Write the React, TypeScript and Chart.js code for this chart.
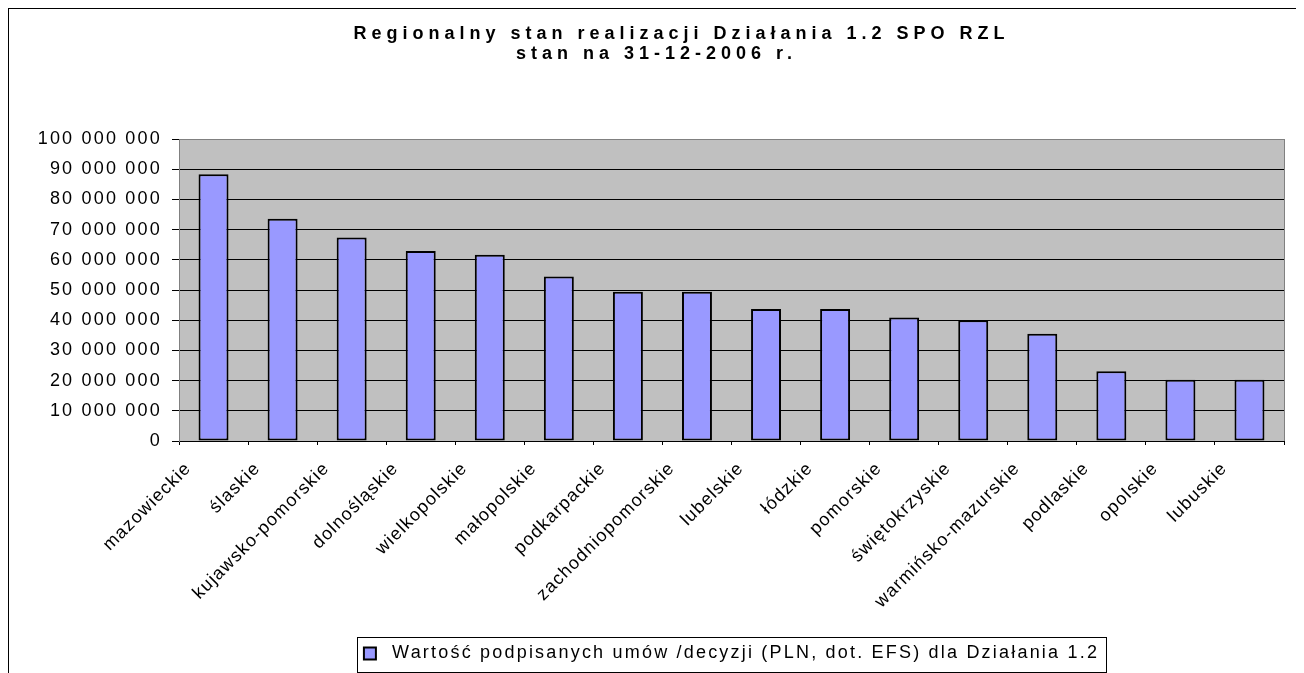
import React, { useEffect, useRef } from 'react';
import { Chart, registerables } from 'chart.js';

Chart.register(...registerables);

// ---- data ----
const regions = [
  'mazowieckie',
  'ślaskie',
  'kujawsko-pomorskie',
  'dolnośląskie',
  'wielkopolskie',
  'małopolskie',
  'podkarpackie',
  'zachodniopomorskie',
  'lubelskie',
  'łódzkie',
  'pomorskie',
  'świętokrzyskie',
  'warmińsko-mazurskie',
  'podlaskie',
  'opolskie',
  'lubuskie',
];

const contractValues = [
  88300000, 73600000, 67400000, 62900000, 61700000, 54500000, 49400000, 49400000,
  43700000, 43700000, 40900000, 40000000, 35500000, 23100000, 20300000, 20300000,
];

const seriesLabel = 'Wartość podpisanych umów /decyzji (PLN, dot. EFS) dla Działania 1.2';
const titleLines = ['       Regionalny stan realizacji Działania 1.2 SPO RZL', '  stan na 31-12-2006 r.'];
const yAxisMin = 0;
const yAxisMax = 100000000;
const yAxisStep = 10000000;

// ---- styling ----
const FONT = '"Liberation Sans", Arial, sans-serif';
const FONT_XLABEL = '"Liberation Sans", Arial, Helvetica, sans-serif';
const TEXT_SPACING = '2.2px';
const XLABEL_SPACING = '1.2px';
const TITLE_SPACING = '5px';

function formatThousands(v: number): string {
  return String(Math.round(v)).replace(/\B(?=(\d{3})+(?!\d))/g, ' ');
}

function patchLetterSpacing(ctx: any) {
  const desc = Object.getOwnPropertyDescriptor(CanvasRenderingContext2D.prototype, 'font');
  if (!desc || !desc.set || !desc.get) return;
  Object.defineProperty(ctx, 'font', {
    configurable: true,
    get() {
      return desc.get!.call(this);
    },
    set(v: string) {
      desc.set!.call(this, v);
      let sp = TEXT_SPACING;
      if (/bold/.test(v)) sp = TITLE_SPACING;
      else if (/Helvetica/.test(v)) sp = XLABEL_SPACING;
      (this as any).letterSpacing = sp;
    },
  });
}

const plotFrame = {
  id: 'plotFrame',
  beforeDraw(chart: any) {
    const { ctx, chartArea: a } = chart;
    ctx.save();
    ctx.fillStyle = '#C0C0C0';
    ctx.fillRect(a.left, a.top, a.right - a.left, a.bottom - a.top);
    ctx.restore();
  },
  beforeDatasetsDraw(chart: any) {
    const { ctx, chartArea: a } = chart;
    ctx.save();
    ctx.strokeStyle = '#808080';
    ctx.lineWidth = 1;
    ctx.beginPath();
    ctx.moveTo(Math.round(a.right) + 0.5, a.top);
    ctx.lineTo(Math.round(a.right) + 0.5, a.bottom);
    ctx.stroke();
    ctx.restore();
  },
  afterDraw(chart: any) {
    const hb = chart.legend && chart.legend.legendHitBoxes && chart.legend.legendHitBoxes[0];
    if (!hb) return;
    const { ctx } = chart;
    ctx.save();
    ctx.strokeStyle = '#000';
    ctx.lineWidth = 1;
    ctx.strokeRect(Math.round(hb.left - 7) + 0.5, Math.round(hb.top - 8) + 0.5, Math.round(hb.width + 14), 35);
    ctx.restore();
  },
};

export default function App() {
  const canvasRef = useRef<HTMLCanvasElement | null>(null);

  useEffect(() => {
    document.documentElement.style.overflow = 'hidden';
    document.body.style.overflow = 'hidden';
    const canvas = canvasRef.current;
    if (!canvas) return;
    const ctx = canvas.getContext('2d');
    patchLetterSpacing(ctx);

    Chart.defaults.font.family = FONT;
    Chart.defaults.color = '#000';

    const chart = new Chart(canvas, {
      type: 'bar',
      data: {
        labels: regions,
        datasets: [
          {
            label: seriesLabel,
            data: contractValues,
            backgroundColor: '#9999FF',
            borderColor: '#000',
            borderWidth: 2,
            borderSkipped: false,
            barPercentage: 1,
            categoryPercentage: 0.434,
          },
        ],
      },
      plugins: [plotFrame],
      options: {
        responsive: false,
        animation: false,
        devicePixelRatio: 1,
        layout: { padding: { top: 0, left: 0, right: 18, bottom: 36.5 } },
        plugins: {
          tooltip: { enabled: false },
          title: {
            display: true,
            text: titleLines,
            color: '#000',
            font: { family: FONT, size: 18, weight: 'bold', lineHeight: 1.1 },
            padding: { top: 15, bottom: 75.4 },
          },
          legend: {
            display: true,
            position: 'bottom',
            fullSize: false,
            labels: {
              color: '#000',
              font: { family: FONT, size: 18 },
              boxWidth: 12,
              boxHeight: 12,
              padding: 10,
              generateLabels: (c: any) =>
                (Chart.defaults.plugins.legend.labels.generateLabels as any)(c).map((l: any) => ({
                  ...l,
                  text: ' ' + l.text,
                })),
            },
          },
        },
        scales: {
          x: {
            offset: true,
            grid: {
              display: true,
              offset: true,
              drawOnChartArea: false,
              drawTicks: true,
              tickLength: 4,
              tickColor: '#000',
            },
            border: { display: true, color: '#000', width: 1 },
            ticks: {
              autoSkip: false,
              maxRotation: 45,
              minRotation: 45,
              padding: 13,
              labelOffset: -25,
              color: '#000',
              font: { family: FONT_XLABEL, size: 18 },
            },
            afterFit: (scale: any) => {
              scale.height = 193.5;
            },
          },
          y: {
            min: yAxisMin,
            max: yAxisMax,
            grid: {
              color: (c: any) => (c.tick && c.tick.value === yAxisMax ? '#808080' : '#000'),
              lineWidth: 1,
              drawTicks: true,
              tickLength: 7,
              tickColor: '#000',
            },
            border: { display: true, color: '#808080', width: 1 },
            ticks: {
              stepSize: yAxisStep,
              padding: 10,
              color: '#000',
              font: { family: FONT, size: 18 },
              callback: (v: any) => formatThousands(Number(v)),
            },
            afterFit: (scale: any) => {
              scale.width = 170;
            },
          },
        },
      },
    } as any);

    return () => {
      chart.destroy();
    };
  }, []);

  return (
    <div style={{ border: '1px solid #000', width: 1293, height: 700, background: '#fff' }}>
      <canvas ref={canvasRef} width={1293} height={700} style={{ display: 'block', width: 1293, height: 700 }} />
    </div>
  );
}
